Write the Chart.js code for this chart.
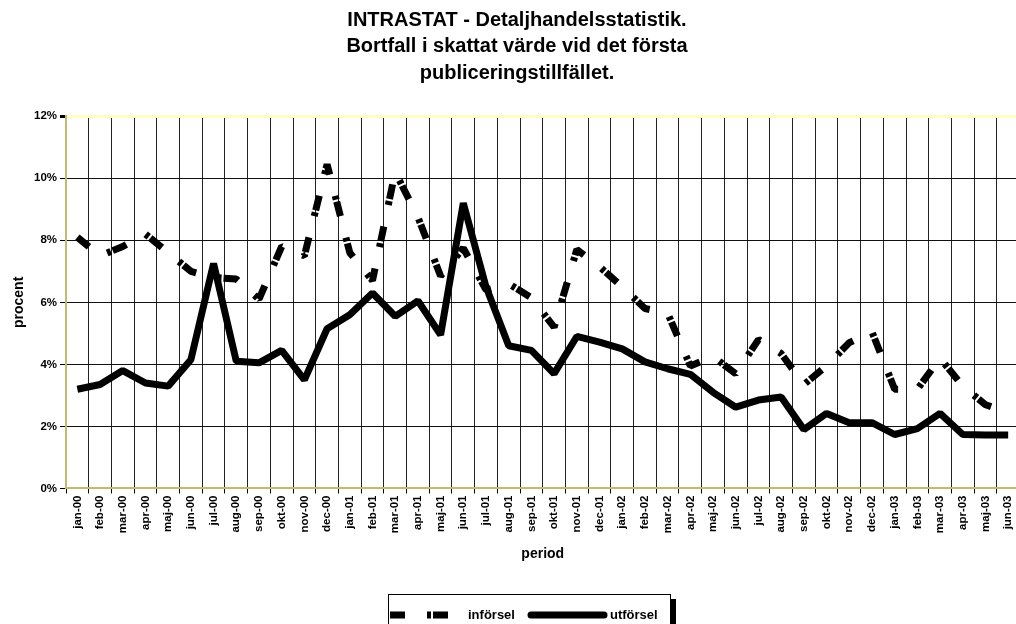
<!DOCTYPE html>
<html>
<head>
<meta charset="utf-8">
<title>INTRASTAT - Detaljhandelsstatistik</title>
<script src="https://cdn.jsdelivr.net/npm/chart.js@4.4.1/dist/chart.umd.min.js"></script>
<style>
  html, body { margin: 0; padding: 0; background: #fff; overflow: hidden; }
  #wrap { position: relative; width: 1024px; height: 624px; }
</style>
</head>
<body>
<div id="wrap"><canvas id="main-chart"></canvas></div>
<script>
// ── Data ──────────────────────────────────────────────────────────────────────
const PERIODS = [
  "jan-00", "feb-00", "mar-00", "apr-00", "maj-00", "jun-00", "jul-00", "aug-00", "sep-00", "okt-00", "nov-00", "dec-00",
  "jan-01", "feb-01", "mar-01", "apr-01", "maj-01", "jun-01", "jul-01", "aug-01", "sep-01", "okt-01", "nov-01", "dec-01",
  "jan-02", "feb-02", "mar-02", "apr-02", "maj-02", "jun-02", "jul-02", "aug-02", "sep-02", "okt-02", "nov-02", "dec-02",
  "jan-03", "feb-03", "mar-03", "apr-03", "maj-03", "jun-03",
];

// bortfall i procent
const INFORSEL = [
  8.1, 7.5, 7.8, 8.2, 7.6, 7.0, 6.8, 6.75, 6.1, 7.8, 7.5, 10.45,
  7.6, 6.7, 10.2, 8.75, 6.85, 7.75, 6.4, 6.6, 6.15, 5.2, 7.7, 7.15,
  6.5, 5.8, 5.65, 3.95, 4.25, 3.7, 4.8, 4.35, 3.35, 3.95, 4.7, 5.05,
  3.2, 3.2, 4.2, 3.3, 2.7, 2.45,
];
const UTFORSEL = [
  3.2, 3.35, 3.8, 3.4, 3.3, 4.15, 7.25, 4.1, 4.05, 4.45, 3.5, 5.15,
  5.6, 6.3, 5.55, 6.05, 4.95, 9.2, 6.5, 4.6, 4.45, 3.7, 4.9, 4.72,
  4.5, 4.08, 3.86, 3.68, 3.1, 2.62, 2.85, 2.95, 1.9, 2.42, 2.12, 2.12,
  1.74, 1.93, 2.42, 1.74, 1.72, 1.72,
];

const TITLE_LINES = [
  "INTRASTAT - Detaljhandelsstatistik.",
  "Bortfall i skattat värde vid det första",
  "publiceringstillfället.",
];
const Y_TICKS = [0, 2, 4, 6, 8, 10, 12];

const FONT = "'Liberation Sans', Arial, Helvetica, sans-serif";
const OLIVE = "#c2ba6c";

// ── Legend in a framed box under the axis ─────────────────────────────────────
const legendBox = {
  id: "legendBox",
  afterDraw(chart) {
    const ctx = chart.ctx;
    const [inf, utf] = chart.data.datasets;
    const x0 = 388, y0 = 594, x1 = 670, y1 = 640, cy = 615;
    ctx.save();
    ctx.strokeStyle = "#000";
    ctx.lineWidth = 1;
    ctx.strokeRect(x0 + 0.5, y0 + 0.5, x1 - x0, y1 - y0);
    ctx.fillStyle = "#000";
    ctx.fillRect(x1 + 1, y0 + 5, 5, y1 - y0);

    ctx.strokeStyle = inf.borderColor;
    ctx.lineWidth = inf.borderWidth;
    ctx.setLineDash(inf.borderDash);
    ctx.lineCap = "butt";
    ctx.beginPath();
    ctx.moveTo(390, cy);
    ctx.lineTo(448, cy);
    ctx.stroke();

    ctx.strokeStyle = utf.borderColor;
    ctx.lineWidth = utf.borderWidth;
    ctx.setLineDash([]);
    ctx.lineCap = "round";
    ctx.beginPath();
    ctx.moveTo(531, cy);
    ctx.lineTo(604, cy);
    ctx.stroke();

    ctx.font = "bold 13px " + FONT;
    ctx.fillStyle = "#000";
    ctx.textBaseline = "middle";
    ctx.textAlign = "left";
    ctx.fillText(inf.label, 468, cy);
    ctx.fillText(utf.label, 610, cy);
    ctx.restore();
  },
};

// ── Chart ─────────────────────────────────────────────────────────────────────
function renderChart() {
  const ctx = document.getElementById("main-chart");
  new Chart(ctx, {
    type: "line",
    data: {
      labels: PERIODS,
      datasets: [
        {
          label: "införsel",
          data: INFORSEL,
          borderColor: "#000",
          borderWidth: 7,
          borderDash: [15, 22, 4, 2],
          borderJoinStyle: "bevel",
          pointRadius: 0,
          tension: 0,
          fill: false,
        },
        {
          label: "utförsel",
          data: UTFORSEL,
          borderColor: "#000",
          borderWidth: 7,
          borderJoinStyle: "bevel",
          pointRadius: 0,
          tension: 0,
          fill: false,
        },
      ],
    },
    options: {
      responsive: true,
      maintainAspectRatio: false,
      animation: false,
      layout: { padding: { left: 12, right: 2, top: 0, bottom: 61 } },
      plugins: {
        legend: { display: false },
        tooltip: { enabled: false },
        title: {
          display: true,
          text: TITLE_LINES,
          color: "#000",
          font: { family: FONT, size: 20, weight: "bold", lineHeight: 1.32 },
          padding: { top: 7, bottom: 30 },
        },
      },
      scales: {
        x: {
          offset: true,
          grid: {
            offset: true,
            color: (c) => (c.index === 0 ? OLIVE : "#222"),
            lineWidth: 1,
            tickLength: 5,
            tickColor: "#000",
          },
          border: { color: OLIVE, width: 2 },
          ticks: {
            autoSkip: false,
            minRotation: 90,
            maxRotation: 90,
            padding: 2,
            color: "#000",
            font: { family: FONT, size: 11.5, weight: "bold" },
          },
          title: {
            display: true,
            text: "period",
            color: "#000",
            font: { family: FONT, size: 14, weight: "bold" },
            padding: { top: 11, bottom: 0 },
          },
        },
        y: {
          min: 0,
          max: 12,
          afterFit: (scale) => { scale.width = 54; },
          afterBuildTicks: (scale) => { scale.ticks = Y_TICKS.map((v) => ({ value: v })); },
          grid: {
            color: (c) => (c.tick.value === 12 ? "#ffffc0" : c.tick.value === 0 ? OLIVE : "#111"),
            lineWidth: (c) => (c.tick.value === 12 ? 3 : 1),
            tickLength: 6,
            tickColor: "#000",
          },
          border: { color: OLIVE, width: 2 },
          ticks: {
            padding: 3,
            color: "#000",
            font: { family: FONT, size: 11.5, weight: "bold" },
            callback: (v) => v + "%",
          },
          title: {
            display: true,
            text: "procent",
            color: "#000",
            font: { family: FONT, size: 14, weight: "bold" },
            padding: { top: -1, bottom: 0 },
          },
        },
      },
    },
    plugins: [legendBox],
  });
}

document.addEventListener("DOMContentLoaded", renderChart);
</script>
</body>
</html>
